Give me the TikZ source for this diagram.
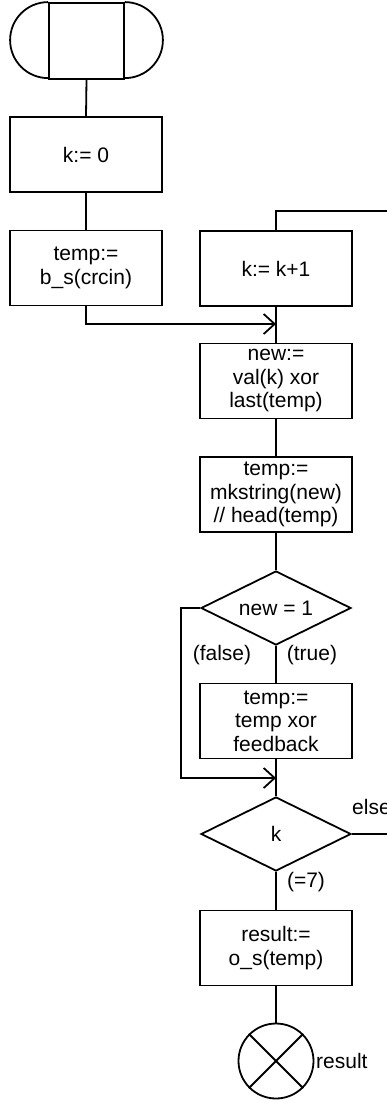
\documentclass[tikz,border=0pt]{standalone}
\usepackage{fontspec}
\setmainfont{Liberation Sans}
\usetikzlibrary{shapes.geometric,arrows.meta}
\tikzset{
  base/.style={line width=1.8pt},
  box/.style={base, draw, rectangle, minimum width=152pt, minimum height=75pt, inner sep=0pt, align=center, font=\fontsize{21}{23.5}\selectfont},
  dia/.style={base, draw, diamond, aspect=2, minimum width=150pt, minimum height=74pt, inner sep=0pt, font=\fontsize{21}{23.5}\selectfont},
  lbl/.style={inner sep=0pt, font=\fontsize{21}{23.5}\selectfont},
  conn/.style={base},
  arr/.style={base, -{Straight Barb[length=11pt,width=20pt,line width=1.8pt]}},
}
\begin{document}
\begin{tikzpicture}[x=1pt,y=1pt]
\useasboundingbox (0,0) rectangle (387,-1101);
\clip (0,0) rectangle (387,-1101);
% start terminal
\node[base, draw, rectangle, minimum width=75pt, minimum height=76pt, inner sep=0pt] (start) at (86.5,-41) {};
\draw[base] (start.north west) arc[start angle=90, end angle=270, radius=38pt];
\draw[base] (start.north east) arc[start angle=90, end angle=-90, radius=38pt];
% left column
\node[box] (k0) at (86,-154.5) {k:= 0};
\node[box] (tempb) at (86,-268) {temp:=\\b\_s(crcin)};
% right column
\node[box] (kinc) at (276,-268.5) {k:= k+1};
\node[box] (new) at (276,-381) {new:=\\val(k) xor\\last(temp)};
\node[box] (mk) at (276,-494.5) {temp:=\\mkstring(new)\\// head(temp)};
\node[dia] (d1) at (276,-608) {new = 1};
\node[box] (xor) at (276,-721) {temp:=\\temp xor\\feedback};
\node[dia] (d2) at (276,-834) {k};
\node[box] (res) at (276,-948) {result:=\\o\_s(temp)};
\node[base, draw, circle, minimum size=75pt, inner sep=0pt] (stop) at (276,-1061) {};
\draw[base] (stop.north west) -- (stop.south east);
\draw[base] (stop.north east) -- (stop.south west);
% coordinates
\coordinate (j1) at (276,-324);
\coordinate (loopR) at (392,-211);
\coordinate (fl) at (181,-700);
\coordinate (j2) at (276,-778);
\coordinate (elseR) at (392,-834);
% connectors
\draw[conn] (start.south) -- (k0.north);
\draw[conn] (k0.south) -- (tempb.north);
\draw[arr] (tempb.south) |- (j1);
\draw[conn] (kinc.south) -- (new.north);
\draw[conn] (kinc.north) |- (loopR);
\draw[conn] (new.south) -- (mk.north);
\draw[conn] (mk.south) -- (d1.north);
\draw[conn] (d1.south) -- (xor.north);
\draw[arr] (d1.west) -| (fl) |- (j2);
\draw[conn] (xor.south) -- (d2.north);
\draw[conn] (d2.east) -- (elseR);
\draw[conn] (d2.south) -- (res.north);
\draw[conn] (res.south) -- (stop.north);
% labels
\node[lbl] (lfalse) at (222,-655) {(false)};
\node[lbl] (ltrue) at (312,-655) {(true)};
\node[lbl, anchor=west] (lelse) at (352,-807) {else};
\node[lbl] (lseven) at (306,-882) {(=7)};
\node[lbl, anchor=west] (lres) at (316,-1061) {result};
\end{tikzpicture}
\end{document}
